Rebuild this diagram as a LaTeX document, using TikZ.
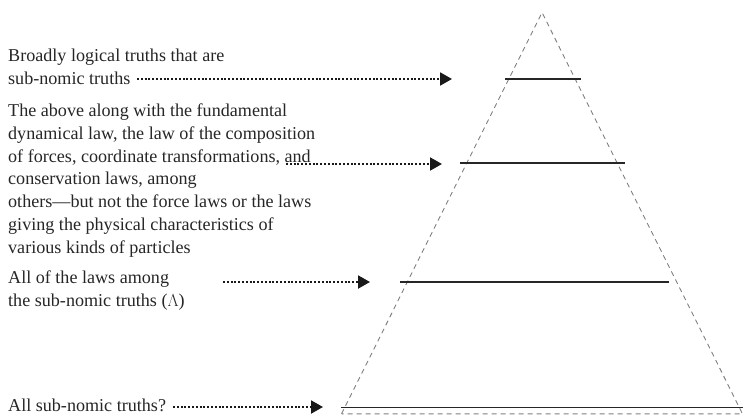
\documentclass[tikz,border=0pt]{standalone}
\usepackage{fontspec}
\setmainfont{Liberation Serif}
\usetikzlibrary{arrows.meta}
\newcommand{\lbltxt}{\fontsize{18.1}{22.7}\selectfont}
\tikzset{
  lbl/.style={anchor=base west, align=left, inner sep=0pt, font=\lbltxt, text=black!85},
  pointer/.style={line width=2pt, dash pattern=on 2pt off 1.8pt, black!90,
    -{Triangle[length=12pt,width=13pt]}},
  level/.style={line width=1.2pt, black!85},
  side/.style={line width=0.9pt, black!50, dash pattern=on 5pt off 4pt}
}
\begin{document}
\begin{tikzpicture}[x=1pt,y=-1pt]
\useasboundingbox (0,0) rectangle (743,415);
% triangle
\coordinate (apex) at (542,12.5);
\coordinate (bl) at (341.5,413.8);
\coordinate (br) at (742.5,413.8);
\draw[side] (bl) -- (apex) -- (br) -- cycle;
% levels
\coordinate (l1a) at (505,79); \coordinate (l1b) at (581,79);
\coordinate (l2a) at (460,163); \coordinate (l2b) at (625,163);
\coordinate (l3a) at (400,282); \coordinate (l3b) at (669,282);
\coordinate (l4a) at (341,407.5); \coordinate (l4b) at (743,407.5);
\draw[level] (l1a) -- (l1b);
\draw[level] (l2a) -- (l2b);
\draw[level] (l3a) -- (l3b);
\draw[level] (l4a) -- (l4b);
% labels
\node[lbl] (t1) at (8,84) {Broadly logical truths that are\\sub-nomic truths};
\node[lbl] (t2) at (8,253) {The above along with the fundamental\\dynamical law, the law of the composition\\of forces, coordinate transformations, and\\conservation laws, among\\others---but not the force laws or the laws\\giving the physical characteristics of\\various kinds of particles};
\node[lbl] (t3) at (8,306) {All of the laws among\\the sub-nomic truths ($\Lambda$)};
\node[lbl] (t4) at (8,411) {All sub-nomic truths?};
% arrows
\coordinate (a1s) at (137,79); \coordinate (a1e) at (452,79);
\coordinate (a2s) at (286,164); \coordinate (a2e) at (442,164);
\coordinate (a3s) at (223,282); \coordinate (a3e) at (370,282);
\coordinate (a4s) at (173,407); \coordinate (a4e) at (323,407);
\draw[pointer] (a1s) -- (a1e);
\draw[pointer] (a2s) -- (a2e);
\draw[pointer] (a3s) -- (a3e);
\draw[pointer] (a4s) -- (a4e);
\end{tikzpicture}
\end{document}
